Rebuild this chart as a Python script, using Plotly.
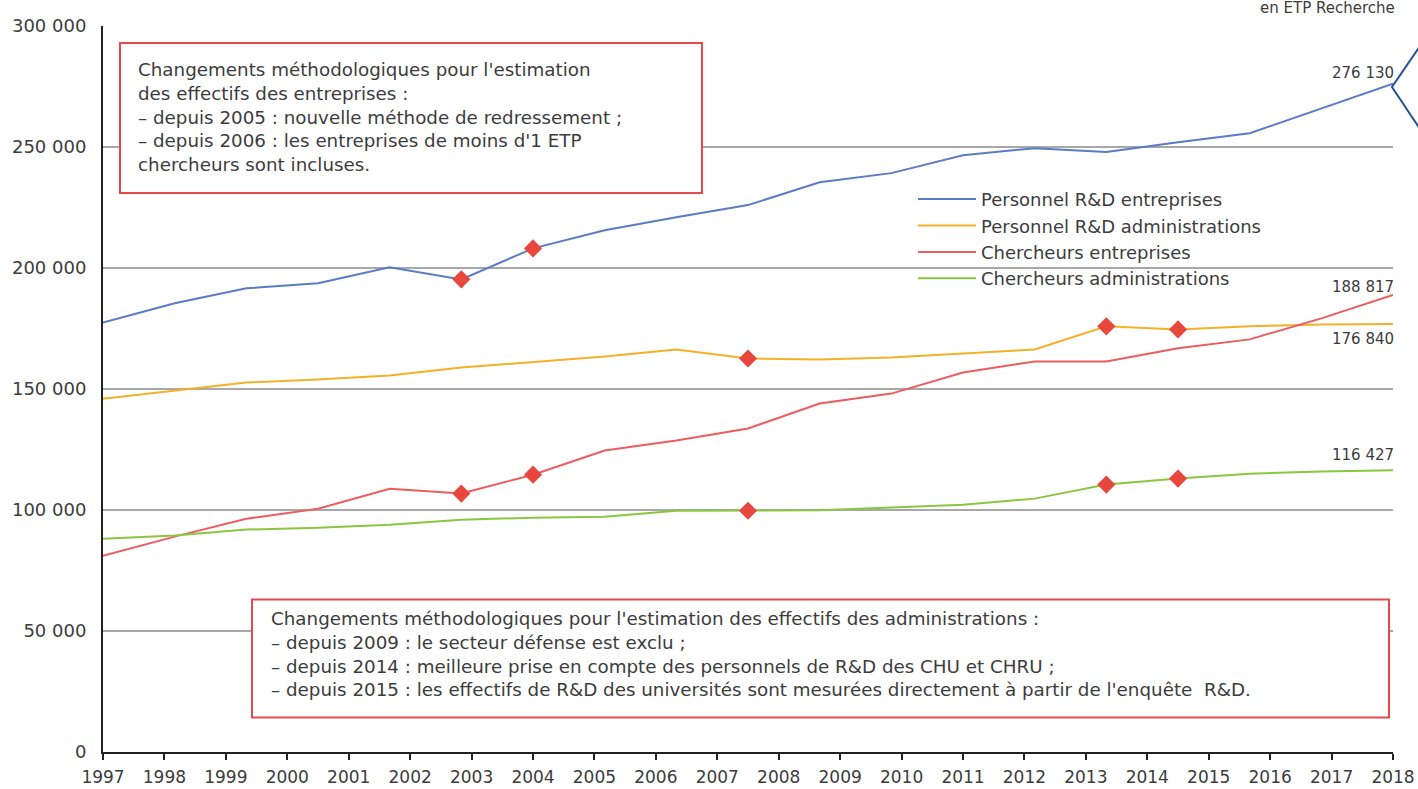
import plotly.graph_objects as go

# ---------------- data ----------------
years = list(range(2000, 2019))          # data points (19 values)
axis_labels = list(range(1997, 2019))    # tick labels printed on the axis

personnel_entreprises = [177500, 185400, 191600, 193700, 200300, 195300, 208100, 215600,
                         221000, 226000, 235400, 239200, 246600, 249500, 247900, 252000,
                         255700, 266000, 276130]
personnel_admin = [146000, 149400, 152700, 153900, 155600, 158900, 161000, 163400,
                   166300, 162600, 162200, 163000, 164700, 166300, 175900, 174600,
                   175900, 176700, 176840]
chercheurs_entreprises = [81100, 89000, 96400, 100500, 108800, 106800, 114600, 124600,
                          128700, 133700, 144000, 148100, 156800, 161400, 161400, 166800,
                          170500, 179200, 188817]
chercheurs_admin = [88100, 89500, 91900, 92700, 93900, 96000, 96800, 97200,
                    99700, 99700, 99900, 101000, 102200, 104700, 110500, 113000,
                    115000, 115900, 116427]

breaks_entreprises = [2005, 2006]
breaks_admin = [2009, 2014, 2015]

y_ticks = [0, 50000, 100000, 150000, 200000, 250000, 300000]

series = [
    ("Personnel R&D entreprises", personnel_entreprises, "#5b7bc4", breaks_entreprises, 11),
    ("Personnel R&D administrations", personnel_admin, "#f6b026", breaks_admin, -15),
    ("Chercheurs entreprises", chercheurs_entreprises, "#ec5d60", breaks_entreprises, 8),
    ("Chercheurs administrations", chercheurs_admin, "#8cc540", breaks_admin, 15),
]

def fmt(v):
    return f"{v:,}".replace(",", " ")

# the printed year labels span the same axis as the data (as in the source chart)
span = (years[-1] - years[0]) / (axis_labels[-1] - axis_labels[0])
tick_pos = [years[0] + (a - axis_labels[0]) * span for a in axis_labels]

FONT = "DejaVu Sans"
TXT = "#3c3c3c"

fig = go.Figure()
for name, vals, col, brk, ys in series:
    fig.add_trace(go.Scatter(x=years, y=vals, mode="lines", name=name,
                             line=dict(color=col, width=2), hoverinfo="y"))
for name, vals, col, brk, ys in series:
    bx = [y for y in years if y in brk]
    by = [vals[years.index(y)] for y in bx]
    fig.add_trace(go.Scatter(x=bx, y=by, mode="markers", showlegend=False,
                             marker=dict(symbol="diamond", size=14, color="#e8473e",
                                         line=dict(width=0)),
                             hoverinfo="skip"))

annotations = []
for name, vals, col, brk, ys in series:
    annotations.append(dict(x=years[-1], y=vals[-1], xref="x", yref="y",
                            text=fmt(vals[-1]), showarrow=False, xanchor="right",
                            yanchor="middle", yshift=ys, xshift=3,
                            font=dict(family=FONT, size=15, color=TXT)))

box1_text = ("Changements méthodologiques pour l'estimation<br>"
             "des effectifs des entreprises :<br>"
             "– depuis 2005 : nouvelle méthode de redressement ;<br>"
             "– depuis 2006 : les entreprises de moins d'1 ETP<br>"
             "chercheurs sont incluses.")
box2_text = ("Changements méthodologiques pour l'estimation des effectifs des administrations :<br>"
             "– depuis 2009 : le secteur défense est exclu ;<br>"
             "– depuis 2014 : meilleure prise en compte des personnels de R&D des CHU et CHRU ;<br>"
             "– depuis 2015 : les effectifs de R&D des universités sont mesurées directement à partir de l'enquête  R&D.")

# page-pixel -> paper helpers (body margin removed, figure fills the page)
W, H = 1418, 789
L, R, T, B = 103, 1393, 26, 752.5
def px(x):
    return (x - L) / (R - L)
def py(y):
    return (B - y) / (B - T)

annotations.append(dict(x=px(136), y=py(57), xref="paper", yref="paper", text=box1_text,
                        showarrow=False, xanchor="left", yanchor="top", align="left",
                        font=dict(family=FONT, size=18.3, color=TXT)))
annotations.append(dict(x=px(269), y=py(606), xref="paper", yref="paper", text=box2_text,
                        showarrow=False, xanchor="left", yanchor="top", align="left",
                        font=dict(family=FONT, size=18.3, color=TXT)))
annotations.append(dict(x=px(1397), y=py(8), xref="paper", yref="paper",
                        text="en ETP Recherche", showarrow=False, xanchor="right",
                        yanchor="middle", font=dict(family=FONT, size=15, color=TXT)))

shapes = [
    # white panel behind the legend (interrupts the grid like the source)
    dict(type="rect", xref="paper", yref="paper", x0=px(902), x1=px(1313), y0=py(292), y1=py(184),
         fillcolor="white", line=dict(width=0), layer="between"),
    dict(type="rect", xref="paper", yref="paper", x0=px(120), x1=px(702), y0=py(193), y1=py(43),
         fillcolor="white", line=dict(color="#e6494b", width=2), layer="above"),
    dict(type="rect", xref="paper", yref="paper", x0=px(252), x1=px(1389), y0=py(718), y1=py(600),
         fillcolor="white", line=dict(color="#e6494b", width=2), layer="above"),
    dict(type="path", xref="paper", yref="paper",
         path=f"M {px(1420)} {py(46)} L {px(1392)} {py(87)} L {px(1420)} {py(129)}",
         line=dict(color="#234f94", width=2)),
]

fig.update_layout(
    width=W, height=H, autosize=False,
    margin=dict(l=L, r=W - R, t=T, b=H - B, autoexpand=False),
    paper_bgcolor="white", plot_bgcolor="white",
    font=dict(family=FONT, color=TXT),
    showlegend=True,
    legend=dict(x=px(913), y=py(181), xanchor="left", yanchor="top",
                bgcolor="rgba(255,255,255,0)", font=dict(family=FONT, size=18, color=TXT),
                itemwidth=58, borderwidth=0),
    xaxis=dict(range=[years[0], years[-1]], automargin=False,
               tickvals=tick_pos, ticktext=[str(a) for a in axis_labels],
               ticks="outside", ticklen=6, tickwidth=2, tickcolor="#222",
               showline=True, linecolor="#222", linewidth=2, showgrid=False,
               zeroline=False, ticklabelstandoff=3,
               tickfont=dict(family=FONT, size=17, color=TXT)),
    yaxis=dict(range=[0, 300000], automargin=False,
               tickvals=y_ticks, ticktext=[fmt(v) for v in y_ticks],
               showline=True, linecolor="#222", linewidth=2,
               showgrid=True, gridcolor="#a8a8a8", gridwidth=2, zeroline=False,
               ticks="", ticklabelstandoff=11,
               tickfont=dict(family=FONT, size=18, color=TXT)),
    annotations=annotations,
    shapes=shapes,
)

fig.write_html("out.html", config={"displayModeBar": False},
               post_script="document.body.style.margin='0';document.body.style.overflow='hidden';")
